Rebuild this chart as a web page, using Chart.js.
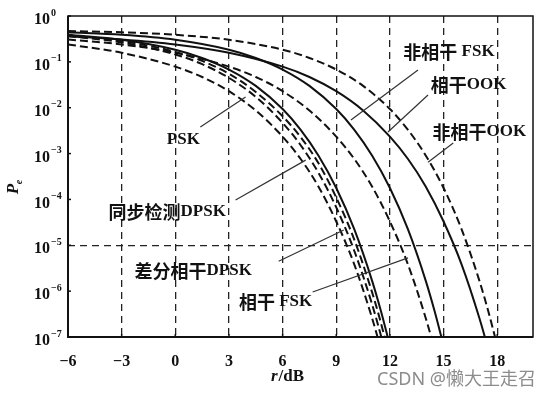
<!DOCTYPE html>
<html>
<head>
<meta charset="utf-8">
<script src="https://cdn.jsdelivr.net/npm/chart.js@4.4.0/dist/chart.umd.min.js"></script>
<style>
html, body { margin: 0; padding: 0; background: #fff; }
#wrap { width: 551px; height: 399px; }
</style>
</head>
<body>
<div id="wrap"><canvas id="berChart" width="551" height="399"></canvas></div>
<script>
// tick labels
const xTicks = [-6, -3, 0, 3, 6, 9, 12, 15, 18];
const yExps = [0, -1, -2, -3, -4, -5, -6, -7];

// PSK (dashed)
const pskX = [-6, -3, 0, 1.5, 3, 4.5, 6, 7, 8, 9, 10, 11, 11.5, 12];
const pskY = [0.24, 0.158, 0.0786, 0.0468, 0.0229, 0.0087, 0.00234, 7.7e-4, 1.92e-4, 3.3e-5, 3.9e-6, 2.6e-7, 5.3e-8, 9e-9];

// 同步检测DPSK (dashed)
const cdpskX = [-6, -3, 0, 1.5, 3, 4.5, 6, 7, 8, 9, 10, 11, 11.5, 12];
const cdpskY = [0.365, 0.266, 0.145, 0.0892, 0.0447, 0.0172, 0.00467, 1.54e-3, 3.84e-4, 6.7e-5, 7.7e-6, 5.2e-7, 1.06e-7, 1.8e-8];

// third dashed curve of the left group (no label)
const midX = [-6, -3, 0, 1.5, 3, 4.5, 6, 7, 8, 9, 10, 11, 11.5, 12];
const midY = [0.375, 0.285, 0.165, 0.105, 0.055, 0.022, 0.0065, 2.3e-3, 6.2e-4, 1.1e-4, 1.35e-5, 9.5e-7, 2e-7, 3.4e-8];

// 差分相干DPSK (solid)
const ddpskX = [-6, -3, 0, 1.5, 3, 4.5, 6, 7, 8, 9, 10, 11, 11.5, 12];
const ddpskY = [0.389, 0.303, 0.184, 0.1217, 0.068, 0.0299, 0.00934, 3.33e-3, 9.1e-4, 1.78e-4, 2.27e-5, 1.7e-6, 3.64e-7, 6.5e-8];

// 相干FSK (dashed)
const cfskX = [-6, -3, 0, 3, 4.5, 6, 7.5, 9, 10, 11, 12, 13, 14, 14.5, 15];
const cfskY = [0.308, 0.24, 0.158, 0.0786, 0.0468, 0.0229, 0.0087, 0.00234, 7.7e-4, 1.92e-4, 3.3e-5, 3.9e-6, 2.6e-7, 5.3e-8, 9e-9];

// 非相干FSK (solid)
const nfskX = [-6, -3, 0, 3, 4.5, 6, 7.5, 9, 10, 11, 12, 13, 14, 14.5, 15];
const nfskY = [0.441, 0.389, 0.303, 0.184, 0.1217, 0.068, 0.0299, 0.00934, 3.33e-3, 9.1e-4, 1.78e-4, 2.27e-5, 1.7e-6, 3.64e-7, 6.5e-8];

// 相干OOK (solid)
const cookX = [-6, -3, 0, 3, 6, 7.5, 9, 10.5, 12, 13, 14, 15, 16, 17, 17.5, 18];
const cookY = [0.362, 0.308, 0.24, 0.158, 0.0786, 0.0468, 0.0229, 0.0087, 0.00234, 7.7e-4, 1.92e-4, 3.3e-5, 3.9e-6, 2.6e-7, 5.3e-8, 9e-9];

// 非相干OOK (dashed)
const nookX = [-6, -3, 0, 3, 6, 7.5, 9, 10.5, 12, 13, 14, 15, 16, 17, 17.5, 18];
const nookY = [0.47, 0.441, 0.389, 0.303, 0.184, 0.1217, 0.068, 0.0299, 0.00934, 3.33e-3, 9.1e-4, 1.78e-4, 2.27e-5, 1.7e-6, 3.64e-7, 6.5e-8];

// text labels with leader lines, in data coordinates (dB, Pe)
const notes = [
  { text: '非相干 FSK', at: [15.3, 0.164], from: [13.57, 0.0665], to: [9.82, 0.0054] },
  { text: '相干OOK', at: [16.4, 0.0313], from: [14.13, 0.0189], to: [11.89, 0.00296] },
  { text: '非相干OOK', at: [17.0, 0.00296], from: [15.54, 0.0017], to: [14.13, 6.5e-4] },
  { text: 'PSK', at: [0.45, 0.00198], from: [1.4, 0.0038], to: [3.93, 0.0171] },
  { text: '同步检测DPSK', at: [-0.45, 5.3e-5], from: [3.37, 9.7e-5], to: [7.29, 7.2e-4] },
  { text: '差分相干DPSK', at: [1.0, 2.75e-6], from: [5.78, 4.5e-6], to: [9.42, 2.16e-5] },
  { text: '相干 FSK', at: [5.61, 5.8e-7], from: [7.68, 9.6e-7], to: [13.01, 5.3e-6] }
];

function curve(label, xs, ys, dashed) {
  return {
    label: label,
    data: xs.map((x, i) => ({ x: x, y: ys[i] })),
    borderColor: '#111',
    borderWidth: 2,
    borderDash: dashed ? [8, 4] : [],
    pointRadius: 0,
    fill: false,
    cubicInterpolationMode: 'monotone'
  };
}

const latinFont = 'bold 17px "Liberation Serif", serif';
const cjkFont = 'bold 18px "Noto Sans CJK SC", sans-serif';

// draw mixed CJK / latin text centred at (cx, cy)
function mixedText(ctx, str, cx, cy) {
  const runs = str.match(/[\u4e00-\u9fff]+|[^\u4e00-\u9fff]+/g);
  let widths = runs.map(r => {
    ctx.font = /[\u4e00-\u9fff]/.test(r) ? cjkFont : latinFont;
    return ctx.measureText(r).width;
  });
  let x = cx - widths.reduce((a, b) => a + b, 0) / 2;
  ctx.textAlign = 'left';
  ctx.textBaseline = 'middle';
  runs.forEach((r, i) => {
    ctx.font = /[\u4e00-\u9fff]/.test(r) ? cjkFont : latinFont;
    ctx.fillText(r, x, cy);
    x += widths[i];
  });
}

const decorations = {
  id: 'decorations',
  afterDatasetsDraw(chart) {
    const ctx = chart.ctx;
    const a = chart.chartArea;
    ctx.save();
    ctx.strokeStyle = '#111';
    ctx.setLineDash([]);
    ctx.lineWidth = 1.5;
    ctx.strokeRect(a.left, a.top, a.right - a.left, a.bottom - a.top);
    ctx.lineWidth = 2;
    ctx.beginPath();
    ctx.moveTo(a.left, a.top);
    ctx.lineTo(a.left, a.bottom);
    ctx.lineTo(a.right, a.bottom);
    ctx.stroke();
    ctx.restore();
  },
  afterDraw(chart) {
    const ctx = chart.ctx;
    const xs = chart.scales.x;
    const ys = chart.scales.y;
    const a = chart.chartArea;
    ctx.save();
    ctx.fillStyle = '#111';
    ctx.strokeStyle = '#111';
    ctx.lineWidth = 1.5;

    // x tick labels and small tick marks
    ctx.font = 'bold 16px "Liberation Serif", serif';
    ctx.textAlign = 'center';
    ctx.textBaseline = 'middle';
    xTicks.forEach(v => {
      const px = xs.getPixelForValue(v);
      ctx.fillText(String(v).replace('-', '\u2212'), px, a.bottom + 25);
      ctx.beginPath();
      ctx.moveTo(px, a.bottom);
      ctx.lineTo(px, a.bottom - 3);
      ctx.stroke();
    });

    // y tick labels 10^n
    yExps.forEach(e => {
      const py = ys.getPixelForValue(Math.pow(10, e));
      ctx.font = 'bold 16px "Liberation Serif", serif';
      ctx.textAlign = 'right';
      ctx.fillText('10', 50, py + 4);
      ctx.font = 'bold 10px "Liberation Serif", serif';
      ctx.textAlign = 'left';
      ctx.fillText(String(e).replace('-', '\u2212'), 51, py - 3);
      ctx.beginPath();
      ctx.moveTo(a.left, py);
      ctx.lineTo(a.left + 3, py);
      ctx.stroke();
    });

    // axis titles
    ctx.textAlign = 'left';
    ctx.font = 'italic bold 17px "Liberation Serif", serif';
    const rw = ctx.measureText('r').width;
    ctx.font = 'bold 17px "Liberation Serif", serif';
    const dw = ctx.measureText('/dB').width;
    const tx = 287 - (rw + dw) / 2;
    ctx.font = 'italic bold 17px "Liberation Serif", serif';
    ctx.fillText('r', tx, 377);
    ctx.font = 'bold 17px "Liberation Serif", serif';
    ctx.fillText('/dB', tx + rw + 1, 377);

    ctx.save();
    ctx.translate(14, 187);
    ctx.rotate(-Math.PI / 2);
    ctx.font = 'italic bold 17px "Liberation Serif", serif';
    ctx.textAlign = 'center';
    ctx.fillText('P', -2, 0);
    ctx.font = 'italic bold 10px "Liberation Serif", serif';
    ctx.fillText('e', 5, 5);
    ctx.restore();

    // labels and leader lines
    ctx.strokeStyle = '#333';
    ctx.lineWidth = 1.2;
    notes.forEach(n => {
      ctx.beginPath();
      ctx.moveTo(xs.getPixelForValue(n.from[0]), ys.getPixelForValue(n.from[1]));
      ctx.lineTo(xs.getPixelForValue(n.to[0]), ys.getPixelForValue(n.to[1]));
      ctx.stroke();
      ctx.fillStyle = '#111';
      mixedText(ctx, n.text, xs.getPixelForValue(n.at[0]), ys.getPixelForValue(n.at[1]));
    });

    // watermark
    ctx.fillStyle = '#8c8c8c';
    ctx.font = '18px "Noto Sans", "Noto Sans CJK SC", sans-serif';
    ctx.textAlign = 'right';
    ctx.textBaseline = 'middle';
    ctx.fillText('CSDN @懒大王走召', 536, 380);
    ctx.restore();
  }
};

const ctx = document.getElementById('berChart').getContext('2d');
new Chart(ctx, {
  type: 'line',
  data: {
    datasets: [
      curve('PSK', pskX, pskY, true),
      curve('同步检测DPSK', cdpskX, cdpskY, true),
      curve('', midX, midY, true),
      curve('差分相干DPSK', ddpskX, ddpskY, false),
      curve('相干FSK', cfskX, cfskY, true),
      curve('非相干FSK', nfskX, nfskY, false),
      curve('相干OOK', cookX, cookY, false),
      curve('非相干OOK', nookX, nookY, true)
    ]
  },
  options: {
    responsive: false,
    animation: false,
    layout: { padding: { left: 68, top: 16, right: 18, bottom: 62 } },
    plugins: { legend: { display: false }, tooltip: { enabled: false } },
    scales: {
      x: {
        type: 'linear', min: -6, max: 20,
        ticks: { display: false, stepSize: 3 },
        grid: {
          drawTicks: false,
          lineWidth: 1.3,
          color: c => (c.tick && (c.tick.value === -6 || c.tick.value === 20)) ? 'rgba(0,0,0,0)' : '#222'
        },
        border: { display: false, dash: [7, 5] }
      },
      y: {
        type: 'logarithmic', min: 1e-7, max: 1,
        ticks: { display: false },
        grid: {
          drawTicks: false,
          lineWidth: 1.3,
          color: c => (c.tick && Math.abs(Math.log10(c.tick.value) + 5) < 1e-6) ? '#222' : 'rgba(0,0,0,0)'
        },
        border: { display: false, dash: [7, 5] }
      }
    }
  },
  plugins: [decorations]
});
</script>
</body>
</html>
